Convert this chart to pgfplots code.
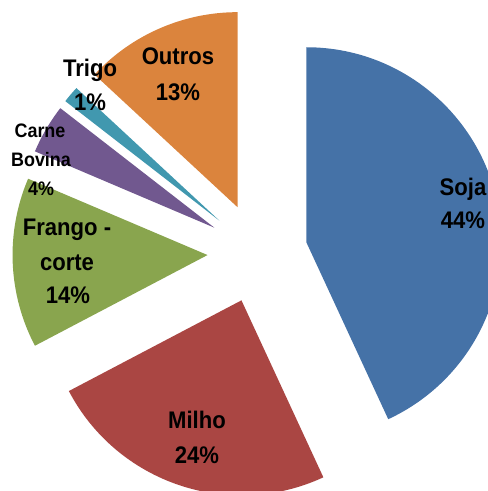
\documentclass[border=0pt]{standalone}
\usepackage{pgfplots}
\usepackage{pgfplotstable}
\pgfplotsset{compat=1.18}
\usepackage{fontspec}
\setmainfont{Liberation Sans}[FakeStretch=0.92]

\definecolor{slice0}{HTML}{4572A7}
\definecolor{slice1}{HTML}{AA4643}
\definecolor{slice2}{HTML}{89A54E}
\definecolor{slice3}{HTML}{71588F}
\definecolor{slice4}{HTML}{4198AF}
\definecolor{slice5}{HTML}{DB843D}

% shares (labels are the rounded values)
\pgfplotstableread{
name   pct
Soja   43.1
Milho  24.2
Frango 14.1
Carne  4.1
Trigo  1.4
Outros 13.1
}\shares

\begin{document}
\begin{tikzpicture}
\begin{axis}[
  hide axis,
  scale only axis,
  width=488bp, height=491bp,
  xmin=0, xmax=488, ymin=0, ymax=491,
  y dir=reverse,
  clip=true,
]
\pgfmathsetmacro\angA{90}
\pgfplotsforeachungrouped \i in {0,...,5}{%
  \pgfplotstablegetelem{\i}{pct}\of\shares
  \pgfmathsetmacro\angB{\angA-3.6*\pgfplotsretval}%
  \pgfmathsetmacro\angM{(\angA+\angB)/2}%
  \edef\doslice{\noexpand\fill[slice\i] ([shift={(\angM:50bp)}]axis cs:257.5,253)
    -- ++(\angA:195bp) arc[start angle=\angA, end angle=\angB, radius=195bp] -- cycle;}%
  \doslice
  \let\angA\angB
}

\tikzset{lab/.style={anchor=base, inner sep=0pt, font=\bfseries\fontsize{24bp}{28bp}\selectfont},
         labs/.style={anchor=base, inner sep=0pt, font=\bfseries\fontsize{19.5bp}{23bp}\selectfont}}
\node[lab] at (axis cs:463,195) {Soja};
\node[lab] at (axis cs:463,228) {44\%};
\node[lab] at (axis cs:197,428) {Milho};
\node[lab] at (axis cs:197,463) {24\%};
\node[lab] at (axis cs:67,235) {Frango -};
\node[lab] at (axis cs:67,270) {corte};
\node[lab] at (axis cs:68,303) {14\%};
\node[labs] at (axis cs:40,137) {Carne};
\node[labs] at (axis cs:41,166) {Bovina};
\node[labs] at (axis cs:41,195) {4\%};
\node[lab] at (axis cs:90,77) {Trigo};
\node[lab] at (axis cs:90,110) {1\%};
\node[lab] at (axis cs:178,65) {Outros};
\node[lab] at (axis cs:178,100) {13\%};
\end{axis}
\pgfresetboundingbox
\useasboundingbox (current axis.south west) rectangle (current axis.north east);
\end{tikzpicture}
\end{document}
